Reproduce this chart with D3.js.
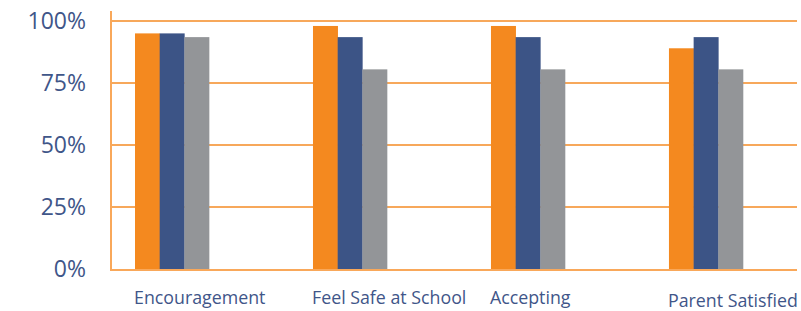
<!DOCTYPE html>
<html>
<head>
<meta charset="utf-8">
<script src="https://cdn.jsdelivr.net/npm/d3@7"></script>
<style>
  body { margin: 0; background: #fff; }
  svg { display: block; }
</style>
</head>
<body>
<div class="chart"></div>
<script>
  // data
  const categories = ["Encouragement", "Feel Safe at School", "Accepting", "Parent Satisfied"];
  const seriesNames = ["seriesA", "seriesB", "seriesC"];
  const seriesA = [95, 98, 98, 89];
  const seriesB = [95, 93.5, 93.5, 93.5];
  const seriesC = [93.5, 80.5, 80.5, 80.5];
  const yTicks = [0, 25, 50, 75, 100];

  const colors = ["#f4891f", "#3c5486", "#939598"];
  const textColor = "#3f5689";

  const width = 801, height = 311;

  const svg = d3.select(".chart")
    .append("svg")
    .attr("width", width)
    .attr("height", height);

  const rows = categories.map((c, i) => ({
    cat: c,
    values: [seriesA[i], seriesB[i], seriesC[i]]
  }));

  // scales
  const x0 = d3.scaleBand()
    .domain(categories)
    .range([135, 743])
    .paddingInner(0.584)
    .paddingOuter(0);

  const x1 = d3.scaleBand()
    .domain(seriesNames)
    .range([0, x0.bandwidth()]);

  const y = d3.scaleLinear()
    .domain([0, 100])
    .range([269, 21]);

  // gridlines
  svg.append("g")
    .selectAll("line")
    .data(yTicks.filter(d => d > 0))
    .enter()
    .append("line")
    .attr("x1", 111)
    .attr("x2", 797)
    .attr("y1", d => y(d))
    .attr("y2", d => y(d))
    .attr("stroke", "#f58b25")
    .attr("stroke-width", 1.6);

  // bars
  const groups = svg.append("g")
    .selectAll("g")
    .data(rows)
    .enter()
    .append("g")
    .attr("transform", d => "translate(" + x0(d.cat) + ",0)");

  groups.selectAll("rect")
    .data(d => d.values.map((v, i) => ({ key: seriesNames[i], value: v, i: i })))
    .enter()
    .append("rect")
    .attr("x", d => x1(d.key))
    .attr("y", d => y(d.value))
    .attr("width", x1.bandwidth() + 0.3)
    .attr("height", d => y(0) - y(d.value) + 1)
    .attr("fill", d => colors[d.i]);

  // axis lines (lighter orange)
  svg.append("line")
    .attr("x1", 111).attr("x2", 111)
    .attr("y1", 11).attr("y2", y(0) + 1.5)
    .attr("stroke", "#f9a85a")
    .attr("stroke-width", 2);

  svg.append("line")
    .attr("x1", 110).attr("x2", 797)
    .attr("y1", y(0) + 1).attr("y2", y(0) + 1)
    .attr("stroke", "#f9a85a")
    .attr("stroke-width", 2);

  // y tick labels
  svg.append("g")
    .selectAll("text")
    .data(yTicks)
    .enter()
    .append("text")
    .attr("x", 86)
    .attr("y", d => y(d))
    .attr("dy", "0.36em")
    .attr("text-anchor", "end")
    .style("font-family", "'Open Sans', sans-serif")
    .style("font-size", "23px")
    .style("fill", textColor)
    .text(d => d + "%");

  // category labels, left aligned under each group
  svg.append("g")
    .selectAll("text")
    .data(categories)
    .enter()
    .append("text")
    .attr("x", d => x0(d) - 1)
    .attr("y", (d, i) => i === 3 ? 307 : 304)
    .attr("text-anchor", "start")
    .style("font-family", "'Open Sans', sans-serif")
    .style("font-size", "17.8px")
    .style("fill", textColor)
    .text(d => d);
</script>
</body>
</html>
